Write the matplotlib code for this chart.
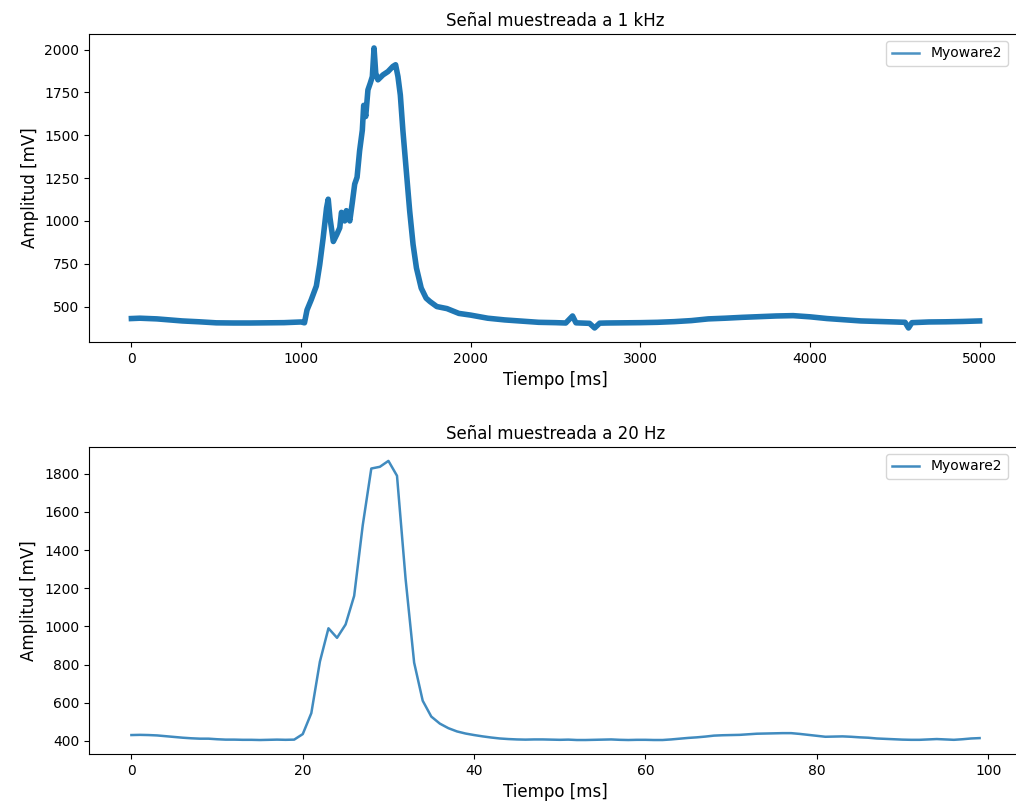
import matplotlib.pyplot as plt
from matplotlib.ticker import MultipleLocator

# Señal a 1 kHz (tiempo en ms)
t_1khz = [0, 50, 100, 150, 200, 250, 300, 400, 500, 600, 700, 800, 900, 1000,
          1020, 1035, 1060, 1090, 1110, 1130, 1150, 1160, 1170, 1190, 1210,
          1228, 1238, 1257, 1267, 1287, 1302, 1316, 1330, 1345, 1361, 1369,
          1381, 1394, 1408, 1420, 1430, 1440, 1453, 1483, 1512, 1541, 1557,
          1571, 1585, 1600, 1620, 1640, 1660, 1680, 1708, 1737, 1760, 1800,
          1860, 1930, 2000, 2100, 2200, 2300, 2400, 2500, 2560, 2600, 2620,
          2700, 2730, 2760, 2800, 2900, 3000, 3100, 3200, 3300, 3400, 3500,
          3600, 3700, 3800, 3900, 4000, 4100, 4200, 4300, 4400, 4500, 4560,
          4580, 4600, 4700, 4800, 4900, 4999]
v_1khz = [430, 432, 430, 428, 424, 420, 416, 411, 405, 404, 404, 405, 406, 410,
          405, 480, 540, 620, 745, 900, 1075, 1127, 1020, 880, 920,
          960, 1050, 1000, 1060, 1000, 1108, 1215, 1255, 1410, 1530, 1675,
          1610, 1765, 1805, 1843, 2010, 1863, 1824, 1853, 1872, 1902, 1912,
          1843, 1735, 1529, 1294, 1059, 863, 725, 608, 549, 529, 500,
          488, 460, 450, 432, 422, 415, 408, 406, 404, 445, 405,
          402, 375, 403, 404, 405, 406, 408, 412, 418, 428, 432,
          437, 441, 445, 447, 440, 430, 423, 416, 413, 410, 408,
          375, 406, 410, 411, 413, 416]

# Señal a 20 Hz (100 muestras)
v_20hz = [430, 431, 430, 428, 424, 420, 416, 413, 411, 411,
          408, 406, 406, 405, 405, 404, 405, 406, 405, 406,
          435, 545, 815, 990, 940, 1010, 1160, 1530, 1828, 1837,
          1868, 1790, 1250, 810, 610, 527, 490, 466, 449, 438,
          430, 423, 417, 412, 409, 407, 406, 407, 407, 406,
          405, 406, 404, 404, 405, 406, 407, 405, 404, 405,
          405, 404, 404, 407, 411, 415, 418, 422, 427, 429,
          430, 431, 434, 437, 438, 439, 440, 440, 436, 431,
          426, 421, 422, 423, 421, 418, 416, 412, 410, 408,
          406, 405, 405, 407, 409, 407, 405, 408, 412, 414]
t_20hz = list(range(len(v_20hz)))

fig = plt.figure(figsize=(10.16, 8.05), dpi=100)
ax1 = fig.add_axes([0.0876, 0.5752, 0.9183, 0.3826])
ax2 = fig.add_axes([0.0876, 0.0634, 0.9183, 0.3814])

ax1.plot(t_1khz, v_1khz, color='#1f77b4', lw=4, label='Myoware2')
ax1.set_title('Señal muestreada a 1 kHz', fontsize=12)
ax1.set_xlabel('Tiempo [ms]', fontsize=12)
ax1.set_ylabel('Amplitud [mV]', fontsize=12)
ax1.yaxis.set_major_locator(MultipleLocator(250))
leg = ax1.legend(loc='upper right', bbox_to_anchor=(0.992, 1.0))
leg.get_lines()[0].set_linewidth(1.8)
leg.get_lines()[0].set_alpha(0.8)

ax2.plot(t_20hz, v_20hz, color='#1f77b4', alpha=0.85, lw=1.8, label='Myoware2')
ax2.set_title('Señal muestreada a 20 Hz', fontsize=12)
ax2.set_xlabel('Tiempo [ms]', fontsize=12)
ax2.set_ylabel('Amplitud [mV]', fontsize=12)
ax2.legend(loc='upper right', bbox_to_anchor=(0.992, 1.0))

for ax in (ax1, ax2):
    ax.spines['right'].set_visible(False)

plt.savefig('out.png', dpi=100)
